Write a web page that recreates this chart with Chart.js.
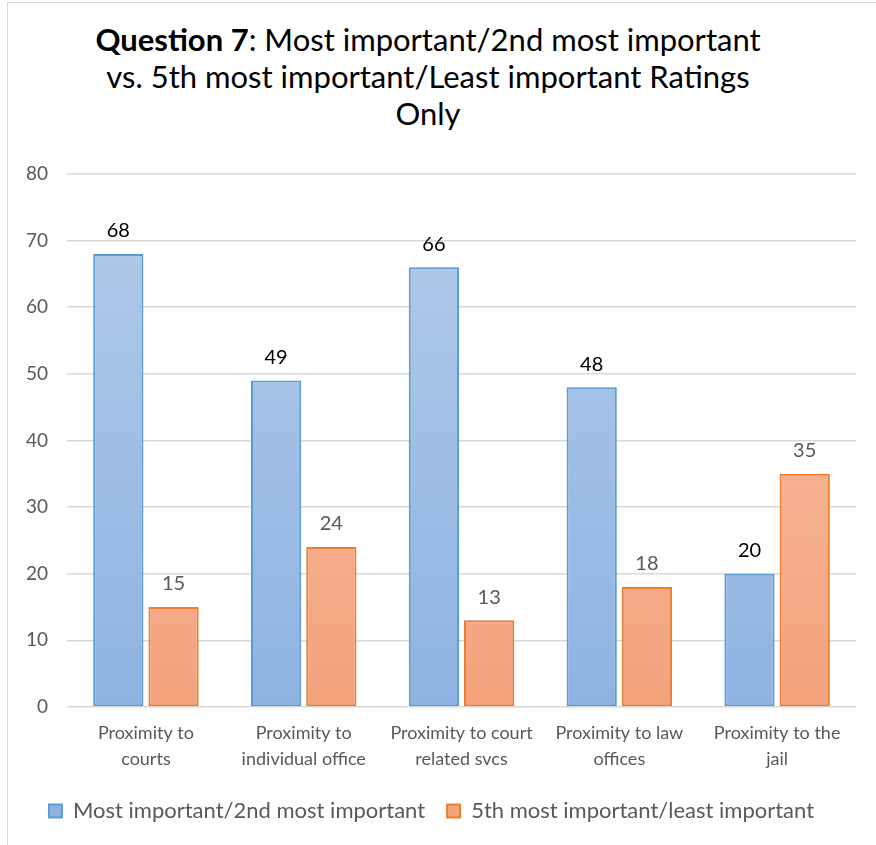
<!DOCTYPE html>
<html>
<head>
<meta charset="utf-8">
<script src="https://cdn.jsdelivr.net/npm/chart.js@4"></script>
<style>
    body { margin: 0; background: #fff; }
    #wrap { position: relative; width: 876px; height: 845px; }
    #frame { position: absolute; left: 7px; top: 2px; width: 880px; height: 860px; border: 1px solid #d9d9d9; box-sizing: border-box; }
    #title { position: absolute; left: 0; top: 21px; width: 856px; text-align: center; font-family: Lato, sans-serif; font-size: 31px; line-height: 37px; color: #000; }
    canvas { position: absolute; left: 0; top: 0; }
</style>
</head>
<body>
<div id="wrap">
    <div id="frame"></div>
    <div id="title"><b>Question 7</b>: Most important/2nd most important<br>vs. 5th most important/Least important Ratings<br>Only</div>
    <canvas id="chart" width="876" height="845"></canvas>
</div>
<script>
const categories = [
    ['Proximity to', 'courts'],
    ['Proximity to', 'individual office'],
    ['Proximity to court', 'related svcs'],
    ['Proximity to law', 'offices'],
    ['Proximity to the', 'jail']
];
const mostImportant = [68, 49, 66, 48, 20];
const leastImportant = [15, 24, 13, 18, 35];
const seriesNames = ['Most important/2nd most important', '5th most important/least important'];

// vertical gradient for a bar fill, across the chart area
function gradient(ctx, top, bottom) {
    const chart = ctx.chart;
    const area = chart.chartArea;
    if (!area) return top;
    const g = chart.ctx.createLinearGradient(0, area.top, 0, area.bottom);
    g.addColorStop(0, top);
    g.addColorStop(1, bottom);
    return g;
}

// values above each bar
const barLabels = {
    id: 'barLabels',
    afterDatasetsDraw(chart) {
        const c = chart.ctx;
        c.save();
        c.font = '20px Lato, sans-serif';
        c.textAlign = 'center';
        c.textBaseline = 'bottom';
        chart.data.datasets.forEach((ds, i) => {
            c.fillStyle = i === 0 ? '#000000' : '#595959';
            chart.getDatasetMeta(i).data.forEach((bar, j) => {
                c.fillText(ds.data[j], bar.x, bar.y - 13);
            });
        });
        c.restore();
    }
};

new Chart(document.getElementById('chart'), {
    type: 'bar',
    data: {
        labels: categories,
        datasets: [
            {
                label: seriesNames[0],
                data: mostImportant,
                backgroundColor: (ctx) => gradient(ctx, '#b3cbe9', '#8eb3e2'),
                borderColor: '#5b9bd5',
                borderWidth: 2,
                borderSkipped: false
            },
            {
                label: seriesNames[1],
                data: leastImportant,
                backgroundColor: (ctx) => gradient(ctx, '#f8c4ac', '#f4a27c'),
                borderColor: '#ed7d31',
                borderWidth: 2,
                borderSkipped: false
            }
        ]
    },
    options: {
        responsive: false,
        animation: false,
        categoryPercentage: 0.7,
        barPercentage: 0.91,
        layout: {
            padding: { top: 174, left: 7, right: 20, bottom: 13 }
        },
        scales: {
            x: {
                grid: { display: false },
                border: { display: false },
                ticks: {
                    color: '#595959',
                    font: { family: 'Lato, sans-serif', size: 18, lineHeight: 1.42 },
                    maxRotation: 0,
                    padding: 6
                }
            },
            y: {
                min: 0,
                max: 80,
                ticks: {
                    stepSize: 10,
                    color: '#595959',
                    font: { family: 'Lato, sans-serif', size: 19 },
                    padding: 19
                },
                grid: { color: '#d9d9d9', lineWidth: 1.5, drawTicks: false },
                border: { display: false }
            }
        },
        plugins: {
            legend: {
                position: 'bottom',
                labels: {
                    color: '#595959',
                    font: { family: 'Lato, sans-serif', size: 22 },
                    boxWidth: 13,
                    boxHeight: 13,
                    padding: 22
                }
            },
            tooltip: { enabled: false }
        }
    },
    plugins: [barLabels]
});
</script>
</body>
</html>
